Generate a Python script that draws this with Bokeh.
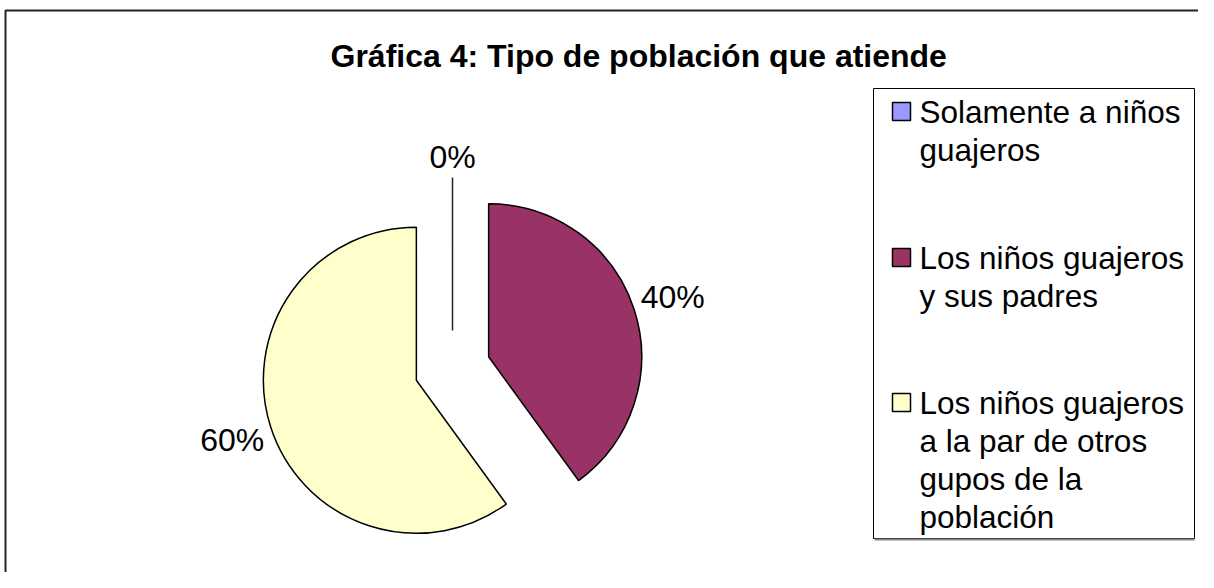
import math
from bokeh.plotting import figure
from bokeh.models import Range1d
from bokeh.core.properties import value
from bokeh.embed import file_html
from bokeh.resources import INLINE

# ---------------- data ----------------
title_text = "Gráfica 4:  Tipo de  población  que atiende"
categories = [
    "Solamente a niños\nguajeros",
    "Los niños guajeros\ny sus padres",
    "Los niños guajeros\na la par de otros\ngupos de la\npoblación",
]
values = [0, 40, 60]
colors = ["#9999FF", "#993366", "#FFFFCC"]

# ---------------- layout ----------------
W, H = 1198, 572
FONT = "Liberation Sans"


def sy(y):
    return H - y


CX, CY = 452, sy(368)
R = 153
EXPLODE = 38
GAP = 8
HALF_W, HALF_H = 31, 13

p = figure(width=W, height=H, x_range=Range1d(0, W), y_range=Range1d(0, H),
           output_backend="svg", toolbar_location=None, min_border=0,
           x_axis_type=None, y_axis_type=None)
p.grid.visible = False
p.outline_line_color = None
p.background_fill_color = "white"
p.border_fill_color = "white"

# ---------------- outer border (left & top visible, chart area is cropped) ----------------
p.line(x=[5, 5, W + 5], y=[sy(H + 5), sy(10), sy(10)], line_color="#222222", line_width=2)

# ---------------- pie ----------------
total = float(sum(values))
wx, wy, ws, we, wc = [], [], [], [], []
zx0, zy0, zx1, zy1 = [], [], [], []
lx, ly, labels = [], [], []
cum = 0.0
for v, col in zip(values, colors):
    a = cum / total
    b = (cum + v) / total
    th_a = math.pi / 2 - 2 * math.pi * a
    th_b = math.pi / 2 - 2 * math.pi * b
    mid = (th_a + th_b) / 2
    cx = CX + EXPLODE * math.cos(mid)
    cy = CY + EXPLODE * math.sin(mid)
    if v > 0:
        wx.append(cx)
        wy.append(cy)
        ws.append(th_b)
        we.append(th_a)
        wc.append(col)
    else:
        # zero-size slice: drawn as a single radial edge
        zx0.append(cx)
        zy0.append(cy)
        zx1.append(cx + R * math.cos(mid))
        zy1.append(cy + R * math.sin(mid))
    c, s = abs(math.cos(mid)), abs(math.sin(mid))
    ext = min(HALF_W / c if c > 1e-9 else 1e9, HALF_H / s if s > 1e-9 else 1e9)
    d = R + GAP + ext
    lx.append(cx + d * math.cos(mid))
    ly.append(cy + d * math.sin(mid))
    labels.append(f"{round(100 * v / total)}%")
    cum += v

p.wedge(x=wx, y=wy, radius=R, start_angle=ws, end_angle=we,
        fill_color=wc, line_color="black", line_width=1.5)
p.segment(x0=zx0, y0=zy0, x1=zx1, y1=zy1, line_color="#222222", line_width=1.5)

p.text(x=lx, y=ly, text=labels, text_font=value(FONT), text_font_size="32px",
       text_align="center", text_baseline="middle", text_color="black")

# ---------------- title ----------------
p.text(x=[330], y=[sy(55)], text=[title_text], text_font=value(FONT),
       text_font_size="32px", text_font_style="bold", text_align="left",
       text_baseline="middle", text_color="black")

# ---------------- legend ----------------
LEG_L, LEG_R, LEG_T, LEG_B = 873, 1194, 88, 538
p.quad(left=[LEG_L], right=[LEG_R], top=[sy(LEG_T)], bottom=[sy(LEG_B)],
       fill_color="white", line_color="black", line_width=1)
p.line(x=[LEG_L + 1, LEG_R], y=[sy(LEG_B + 1), sy(LEG_B + 1)], line_color="#888888", line_width=2)

item_y = [111, 257, 402]
LINE_H = 38
p.rect(x=[901] * len(categories), y=[sy(v) for v in item_y], width=18, height=18,
       fill_color=colors, line_color="black", line_width=1.5)

tx, ty, tt = [], [], []
for cat, y0 in zip(categories, item_y):
    for k, line in enumerate(cat.split("\n")):
        tx.append(919)
        ty.append(sy(y0 + k * LINE_H))
        tt.append(line)
p.text(x=tx, y=ty, text=tt, text_font=value(FONT), text_font_size="31.5px",
       text_align="left", text_baseline="middle", text_color="black")

open("out.html", "w").write(file_html(p, INLINE))
